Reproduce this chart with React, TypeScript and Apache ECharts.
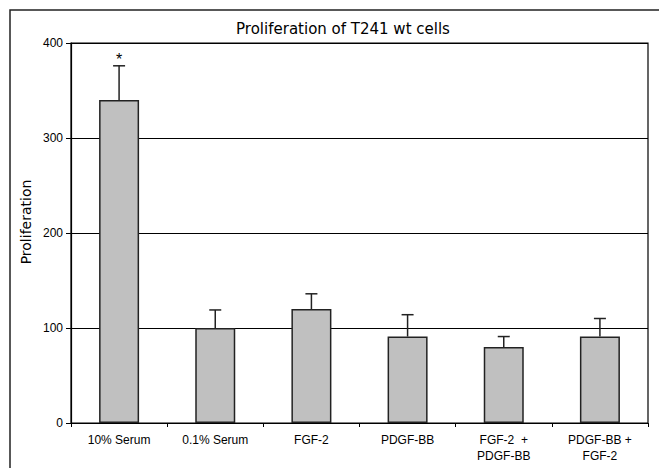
import React, { useEffect, useRef } from "react";
import * as echarts from "echarts";

const categories = ["10% Serum", "0.1% Serum", "FGF-2", "PDGF-BB", "FGF-2  +\nPDGF-BB", "PDGF-BB +\nFGF-2"];
const means = [340, 100, 120, 91, 80, 91];
const errorTops = [376, 119, 136, 114, 91, 110];
const marks = ["*", "", "", "", "", ""];
const yTicks = [0, 100, 200, 300, 400];

export default function App() {
  const ref = useRef<HTMLDivElement>(null);
  useEffect(() => {
    const chart = echarts.init(ref.current!, null, { renderer: "svg" });
    const font = "Liberation Sans, Arial, sans-serif";
    chart.setOption({
      animation: false,
      backgroundColor: "#ffffff",
      title: {
        text: "Proliferation of T241 wt cells",
        left: 338,
        textAlign: "center",
        top: 16,
        textStyle: { fontFamily: "DejaVu Sans, sans-serif", fontSize: 15, fontWeight: "normal", color: "#000" },
      },
      graphic: [
        {
          type: "rect",
          shape: { x: 10, y: 10, width: 720, height: 520 },
          style: { fill: "none", stroke: "#222", lineWidth: 1.5 },
          silent: true,
        },
        {
          type: "text",
          x: 26,
          y: 222,
          rotation: Math.PI / 2,
          style: {
            text: "Proliferation",
            fontFamily: "DejaVu Sans, sans-serif",
            fontSize: 14,
            fill: "#000",
            align: "center",
            verticalAlign: "middle",
          },
          silent: true,
        },
      ],
      grid: { left: 71, right: 11, top: 43, bottom: 45, show: true, borderColor: "#000", borderWidth: 1.2 },
      xAxis: {
        type: "category",
        data: categories,
        axisLine: { lineStyle: { color: "#000", width: 1.2 } },
        axisTick: { show: true, length: 4, lineStyle: { color: "#000" } },
        axisLabel: { fontFamily: font, fontSize: 12, color: "#000", margin: 9, lineHeight: 16, interval: 0 },
      },
      yAxis: {
        type: "value",
        min: 0,
        max: yTicks[yTicks.length - 1],
        interval: 100,
        axisLine: { show: true, lineStyle: { color: "#000", width: 1.2 } },
        axisTick: { show: true, length: 5, lineStyle: { color: "#000" } },
        axisLabel: { fontFamily: font, fontSize: 12, color: "#000", margin: 8 },
        splitLine: { show: true, lineStyle: { color: "#000", width: 1 } },
      },
      series: [
        {
          type: "bar",
          data: means,
          barWidth: 40,
          itemStyle: { color: "#c0c0c0", borderColor: "#222", borderWidth: 1.5 },
          z: 2,
        },
        {
          type: "custom",
          data: means.map((m, i) => [i, m, errorTops[i]]),
          z: 3,
          renderItem: (params: any, api: any) => {
            const i = api.value(0);
            const base = api.coord([i, api.value(1)]);
            const top = api.coord([i, api.value(2)]);
            const half = 6;
            const children: any[] = [
              { type: "line", shape: { x1: base[0], y1: base[1], x2: top[0], y2: top[1] }, style: { stroke: "#222", lineWidth: 1.5 } },
              { type: "line", shape: { x1: top[0] - half, y1: top[1], x2: top[0] + half, y2: top[1] }, style: { stroke: "#222", lineWidth: 1.5 } },
            ];
            const mk = marks[params.dataIndex];
            if (mk) {
              children.push({
                type: "text",
                x: top[0],
                y: top[1] + 2,
                style: { text: mk, fontFamily: font, fontSize: 16, fill: "#000", align: "center", verticalAlign: "bottom" },
              });
            }
            return { type: "group", children };
          },
        },
      ],
    });
    return () => chart.dispose();
  }, []);
  return <div ref={ref} style={{ position: "fixed", left: 0, top: 0, width: 659, height: 468 }} />;
}
